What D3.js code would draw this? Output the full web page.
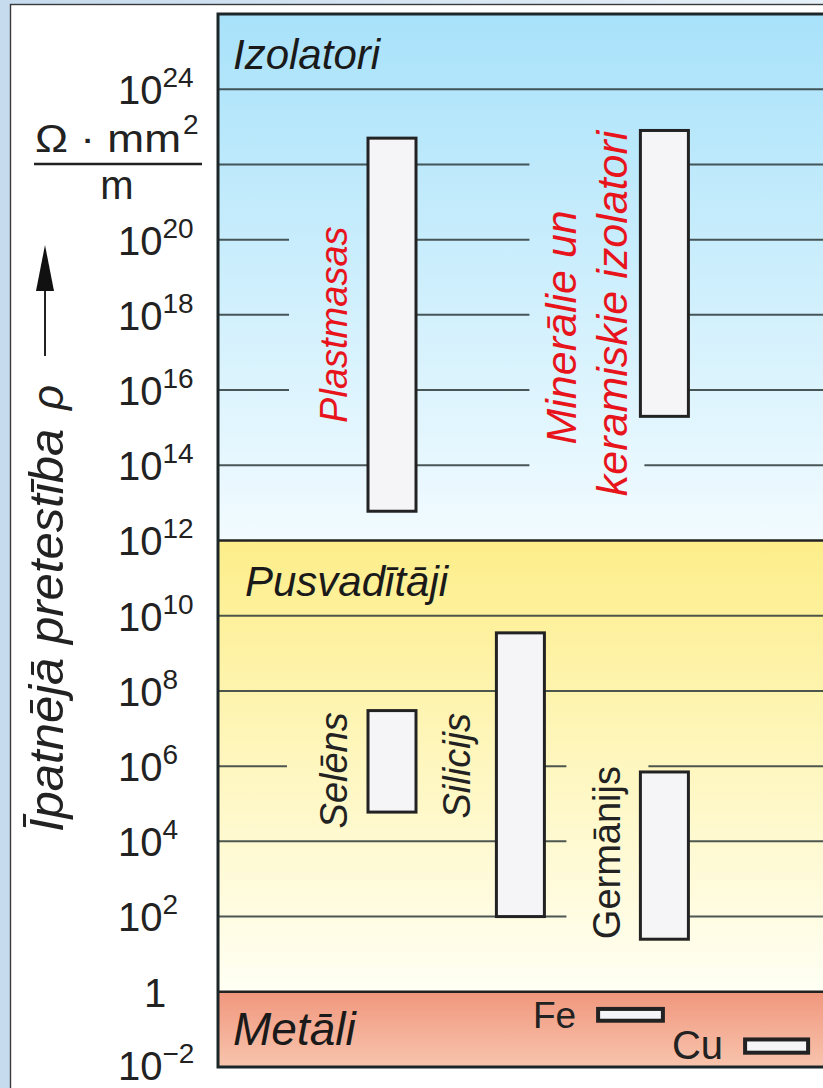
<!DOCTYPE html>
<html>
<head>
<meta charset="utf-8">
<script src="https://cdn.jsdelivr.net/npm/d3@7"></script>
<style>
  html, body { margin: 0; padding: 0; background: #fff; }
  svg { display: block; }
  text { font-family: "Liberation Sans", Arial, sans-serif; }
</style>
</head>
<body>
<svg id="chart" width="823" height="1088"></svg>
<script>
// --- data (resistivity in Ω·mm²/m) ---
const materials = ["Plastmasas", "Minerālie un keramiskie izolatori", "Selēns", "Silicijs", "Germānijs", "Fe", "Cu"];
const rhoMin = [6e12, 2e15, 6e4, 1e2, 2.5e1, 0.17, 0.024];
const rhoMax = [5e22, 8e22, 3e7, 3.5e9, 7e5, 0.35, 0.054];

const classes = ["Izolatori", "Pusvadītāji", "Metāli"];
const classFrom = [1e12, 1, 1e-2];
const classTo = [1e26, 1e12, 1];

// 10^22 has no label: the unit sits there
const tickExps = [-2, 0, 2, 4, 6, 8, 10, 12, 14, 16, 18, 20, 24];
const gridExps = [2, 4, 6, 8, 10, 14, 16, 18, 20, 22, 24];

// --- layout ---
const W = 823, H = 1088;
const plot = {left: 218, right: 830, top: 14, bottom: 1067};

const y = d3.scaleLog().domain([1e-2, 1e26]).range([plot.bottom, plot.top]);
const x = d3.scaleLinear().domain([0, 100]).range([plot.left, plot.left + 600]);

// column placement (units of x), label styling and grid clearance per material
const place = {
  "Plastmasas": {c: 29, w: 8, color: "#e8141c", italic: true, size: 38,
      lines: ["Plastmasas"], dx: [-21], dy: [0], pad: [24, 24]},
  "Minerālie un keramiskie izolatori": {c: 74.4, w: 8, color: "#e8141c", italic: true, size: 43,
      lines: ["Minerālie un", "keramiskie izolatori"], dx: [-64, -13], dy: [54, 40], pad: [8, 8]},
  "Selēns": {c: 29, w: 8, color: "#222", italic: true, size: 38,
      lines: ["Selēns"], dx: [-21], dy: [9], pad: [26, 24]},
  "Silicijs": {c: 50.4, w: 8, color: "#222", italic: true, size: 38,
      lines: ["Silicijs"], dx: [-26], dy: [-9], pad: [24, 24]},
  "Germānijs": {c: 74.4, w: 8, color: "#222", italic: false, size: 38,
      lines: ["Germānijs"], dx: [-20], dy: [-3], pad: [20, 20]},
  "Fe": {c: 68.75, w: 10.8, color: "#222", metal: true, size: 37},
  "Cu": {c: 93.1, w: 10.5, color: "#222", metal: true, size: 40}
};

const classFill = {
  "Izolatori": ["#a8e2fa", "#f2fbff"],
  "Pusvadītāji": ["#fdee8a", "#fffff4"],
  "Metāli": ["#f0977d", "#f8c4ad"]
};
const classTitle = {
  "Izolatori": {dx: 15, size: 42},
  "Pusvadītāji": {dx: 27, size: 42},
  "Metāli": {dx: 15, size: 46}
};

const svg = d3.select("#chart");
const defs = svg.append("defs");

// page background
const pg = defs.append("linearGradient").attr("id", "page").attr("x1", 0).attr("x2", 1).attr("y1", 0).attr("y2", 0);
pg.append("stop").attr("offset", "0%").attr("stop-color", "#c6dbee");
pg.append("stop").attr("offset", "100%").attr("stop-color", "#e6f0f8");
svg.append("rect").attr("width", W).attr("height", H).attr("fill", "url(#page)");

svg.append("rect")
  .attr("x", 10.5).attr("y", 4.5)
  .attr("width", W + 20).attr("height", H + 20)
  .attr("fill", "#fff").attr("stroke", "#3a3a3a").attr("stroke-width", 1.4);

// class bands
classes.forEach((c, i) => {
  const g = defs.append("linearGradient").attr("id", "band" + i)
    .attr("gradientUnits", "userSpaceOnUse")
    .attr("x1", 0).attr("x2", 0)
    .attr("y1", y(classTo[i])).attr("y2", y(classFrom[i]));
  g.append("stop").attr("offset", "0%").attr("stop-color", classFill[c][0]);
  g.append("stop").attr("offset", "100%").attr("stop-color", classFill[c][1]);
});

svg.append("g").selectAll("rect")
  .data(classes)
  .join("rect")
  .attr("x", plot.left)
  .attr("y", (d, i) => y(classTo[i]))
  .attr("width", plot.right - plot.left)
  .attr("height", (d, i) => y(classFrom[i]) - y(classTo[i]))
  .attr("fill", (d, i) => `url(#band${i})`);

const gridG = svg.append("g");
const barG = svg.append("g");
const labelG = svg.append("g");

// class titles
svg.append("g").selectAll("text")
  .data(classes)
  .join("text")
  .attr("x", d => plot.left + classTitle[d].dx)
  .attr("y", (d, i) => i === 2 ? (y(classTo[i]) + y(classFrom[i])) / 2 + 16 : y(classTo[i]) + 55)
  .attr("font-size", d => classTitle[d].size)
  .attr("font-style", "italic")
  .attr("fill", "#1a1a1a")
  .text(d => d);

// material labels (drawn first so the grid can leave room for them)
const gaps = [];
materials.forEach((m, i) => {
  const p = place[m];
  const left = x(p.c - p.w / 2);
  if (p.metal) {
    labelG.append("text")
      .attr("x", left - 22)
      .attr("y", (y(rhoMin[i]) + y(rhoMax[i])) / 2 + 13)
      .attr("text-anchor", "end")
      .attr("font-size", p.size)
      .attr("fill", p.color)
      .text(m);
    return;
  }
  const mid = (y(rhoMin[i]) + y(rhoMax[i])) / 2;
  const lg = labelG.append("g");
  p.lines.forEach((ln, k) => {
    lg.append("text")
      .attr("transform", `translate(${left + p.dx[k]},${mid + p.dy[k]}) rotate(-90)`)
      .attr("text-anchor", "middle")
      .attr("font-size", p.size)
      .attr("font-style", p.italic ? "italic" : "normal")
      .attr("fill", p.color)
      .text(ln);
  });
  const b = lg.node().getBoundingClientRect();
  gaps.push({x0: b.left - p.pad[0], x1: b.right + p.pad[1], y0: b.top - 10, y1: b.bottom + 10});
});

// grid lines with gaps around the labels
const segmentsFor = yy => {
  let segs = [[plot.left, plot.right]];
  gaps.filter(g => yy >= g.y0 && yy <= g.y1).forEach(g => {
    segs = segs.flatMap(([a, b]) => {
      if (g.x1 <= a || g.x0 >= b) return [[a, b]];
      const out = [];
      if (g.x0 > a) out.push([a, g.x0]);
      if (g.x1 < b) out.push([g.x1, b]);
      return out;
    });
  });
  return segs.map(s => ({y: yy, a: s[0], b: s[1]}));
};

const segs = gridExps.flatMap(e => segmentsFor(y(Math.pow(10, e))));
gridG.selectAll("line")
  .data(segs)
  .join("line")
  .attr("x1", d => d.a).attr("x2", d => d.b)
  .attr("y1", d => d.y).attr("y2", d => d.y)
  .attr("stroke", "#2e3a3a").attr("stroke-opacity", 0.85).attr("stroke-width", 2);

// class boundaries
gridG.selectAll(".bound")
  .data(classFrom.slice(0, 2))
  .join("line")
  .attr("class", "bound")
  .attr("x1", plot.left).attr("x2", plot.right)
  .attr("y1", d => y(d)).attr("y2", d => y(d))
  .attr("stroke", "#222").attr("stroke-width", 2.5);

// range bars
barG.selectAll("rect")
  .data(materials)
  .join("rect")
  .attr("x", d => x(place[d].c - place[d].w / 2))
  .attr("width", d => x(place[d].w) - x(0))
  .attr("y", (d, i) => y(rhoMax[i]))
  .attr("height", (d, i) => y(rhoMin[i]) - y(rhoMax[i]))
  .attr("fill", "#f5f5f8")
  .attr("stroke", "#222")
  .attr("stroke-width", d => place[d].metal ? 4 : 3);

// plot frame
svg.append("rect")
  .attr("x", plot.left).attr("y", plot.top)
  .attr("width", plot.right - plot.left).attr("height", plot.bottom - plot.top)
  .attr("fill", "none").attr("stroke", "#1c2628").attr("stroke-width", 3);

// y axis tick labels
const axis = d3.axisLeft(y)
  .tickValues(tickExps.map(e => Math.pow(10, e)))
  .tickSize(0)
  .tickFormat("");
const gAxis = svg.append("g")
  .attr("transform", "translate(118,0)")
  .call(axis)
  .attr("font-size", null).attr("font-family", null);
gAxis.select(".domain").remove();
gAxis.selectAll(".tick text").each(function(d) {
  const e = Math.round(Math.log10(d));
  const t = d3.select(this)
    .attr("x", 0).attr("y", e < 0 ? -2 : 0).attr("dy", "0.36em")
    .attr("text-anchor", "start")
    .attr("font-size", 40)
    .attr("fill", "#222");
  if (e === 0) {
    t.attr("x", 37).attr("text-anchor", "middle").text("1");
  } else {
    t.append("tspan").text("10");
    t.append("tspan").attr("dy", -17).attr("font-size", 28).text(e < 0 ? "−" + (-e) : String(e));
  }
});

// unit  Ω·mm²/m
const unit = svg.append("g").attr("fill", "#222");
unit.append("text")
  .attr("x", 35).attr("y", 152)
  .attr("font-size", 38)
  .attr("textLength", 146)
  .attr("lengthAdjust", "spacingAndGlyphs")
  .text("Ω · mm");
unit.append("text")
  .attr("x", 183).attr("y", 134)
  .attr("font-size", 28)
  .text("2");
unit.append("line")
  .attr("x1", 34).attr("x2", 202).attr("y1", 164).attr("y2", 164)
  .attr("stroke", "#222").attr("stroke-width", 2.5);
unit.append("text")
  .attr("x", 117).attr("y", 199)
  .attr("text-anchor", "middle")
  .attr("font-size", 40)
  .text("m");

// axis title with arrow
svg.append("text")
  .attr("transform", "translate(63,832) rotate(-90)")
  .attr("font-size", 49)
  .attr("font-style", "italic")
  .attr("fill", "#222")
  .text("Īpatnējā pretestība");
svg.append("text")
  .attr("transform", "translate(63,410) rotate(-90)")
  .attr("font-size", 44)
  .attr("font-style", "italic")
  .attr("fill", "#222")
  .text("ρ");
svg.append("line")
  .attr("x1", 45).attr("x2", 45).attr("y1", 356).attr("y2", 285)
  .attr("stroke", "#222").attr("stroke-width", 2);
svg.append("path")
  .attr("d", d3.line()([[45, 245], [54, 291], [36, 291]]) + "Z")
  .attr("fill", "#111");
</script>
</body>
</html>
